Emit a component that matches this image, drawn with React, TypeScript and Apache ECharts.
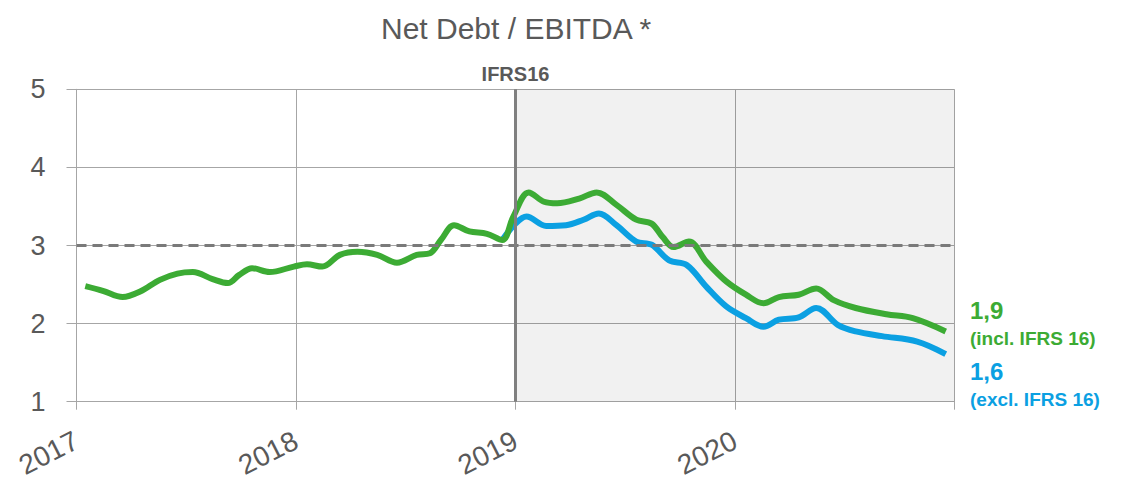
import React, { useEffect, useRef } from "react";
import * as echarts from "echarts";

const TITLE = "Net Debt / EBITDA *";
const yearTicks = [2017, 2018, 2019, 2020, 2021];
const valueTicks = [1, 2, 3, 4, 5];

const inclX = [2017.04, 2017.12, 2017.21, 2017.29, 2017.38, 2017.46, 2017.53, 2017.62, 2017.69, 2017.74, 2017.8, 2017.88, 2017.99, 2018.05, 2018.12, 2018.2, 2018.28, 2018.37, 2018.46, 2018.55, 2018.61, 2018.66, 2018.72, 2018.79, 2018.87, 2018.94, 2018.99, 2019.06, 2019.13, 2019.19, 2019.29, 2019.37, 2019.46, 2019.55, 2019.62, 2019.67, 2019.72, 2019.79, 2019.87, 2019.96, 2020.05, 2020.13, 2020.2, 2020.29, 2020.37, 2020.45, 2020.55, 2020.69, 2020.81, 2020.96];
const inclY = [2.48, 2.42, 2.34, 2.41, 2.56, 2.64, 2.66, 2.57, 2.52, 2.62, 2.71, 2.66, 2.73, 2.76, 2.73, 2.88, 2.92, 2.88, 2.78, 2.88, 2.9, 3.07, 3.26, 3.18, 3.15, 3.07, 3.37, 3.68, 3.56, 3.54, 3.6, 3.68, 3.52, 3.33, 3.28, 3.11, 2.98, 3.05, 2.79, 2.54, 2.37, 2.26, 2.34, 2.37, 2.45, 2.3, 2.2, 2.12, 2.07, 1.9];

const exclX = [2018.94, 2019.0, 2019.05, 2019.14, 2019.23, 2019.31, 2019.38, 2019.46, 2019.55, 2019.62, 2019.7, 2019.78, 2019.87, 2019.96, 2020.05, 2020.13, 2020.2, 2020.29, 2020.37, 2020.47, 2020.55, 2020.67, 2020.83, 2020.96];
const exclY = [3.07, 3.28, 3.37, 3.25, 3.26, 3.33, 3.41, 3.26, 3.05, 3.01, 2.81, 2.75, 2.47, 2.22, 2.07, 1.96, 2.05, 2.08, 2.2, 1.98, 1.9, 1.84, 1.77, 1.61];

const IFRS_YEAR = 2019;
const THRESHOLD = 3;
const inclLabel = ["1,9", "(incl. IFRS 16)"];
const exclLabel = ["1,6", "(excl. IFRS 16)"];

const GREEN = "#3cab34";
const BLUE = "#0ba0e2";
const GREY_TEXT = "#595959";
const GRID = "#a6a6a6";
const FONT = "'Liberation Sans', Arial, sans-serif";

export default function App() {
  const ref = useRef<HTMLDivElement>(null);
  useEffect(() => {
    document.body.style.margin = "0";
    const chart = echarts.init(ref.current!, null, { renderer: "svg" });
    const incl = inclX.map((x, i) => [x, inclY[i]]);
    const excl = exclX.map((x, i) => [x, exclY[i]]);
    chart.setOption({
      animation: false,
      textStyle: { fontFamily: FONT },
      title: {
        text: TITLE,
        left: 376,
        top: 8,
        textStyle: { fontSize: 30, fontWeight: "normal", color: GREY_TEXT, fontFamily: FONT },
      },
      grid: { left: 76.5, right: 172.5, top: 89.3, bottom: 81.3 },
      xAxis: {
        type: "value",
        min: yearTicks[0],
        max: yearTicks[yearTicks.length - 1],
        interval: 1,
        axisLine: { show: true, lineStyle: { color: GRID, width: 1 } },
        axisTick: { show: true, length: 8, lineStyle: { color: GRID } },
        splitLine: { show: true, lineStyle: { color: GRID, width: 1 } },
        axisLabel: {
          rotate: 27,
          margin: 37,
          fontSize: 28,
          color: GREY_TEXT,
          fontFamily: FONT,
          formatter: (v: number) => (v === yearTicks[yearTicks.length - 1] ? "" : String(v)),
        },
      },
      yAxis: {
        type: "value",
        min: valueTicks[0],
        max: valueTicks[valueTicks.length - 1],
        interval: 1,
        axisLine: { show: true, lineStyle: { color: GRID, width: 1 } },
        axisTick: { show: true, length: 10, lineStyle: { color: GRID } },
        splitLine: { show: true, lineStyle: { color: GRID, width: 1 } },
        axisLabel: { margin: 31, fontSize: 27, color: GREY_TEXT, fontFamily: FONT },
      },
      series: [
        {
          name: "incl",
          type: "line",
          data: incl,
          smooth: 0.35,
          showSymbol: false,
          lineStyle: { color: GREEN, width: 6 },
          itemStyle: { color: GREEN },
          z: 3,
          markArea: {
            silent: true,
            itemStyle: { color: "rgba(0,0,0,0.055)" },
            data: [[{ xAxis: IFRS_YEAR }, { xAxis: yearTicks[yearTicks.length - 1] }]],
          },
          markLine: {
            silent: true,
            symbol: "none",
            data: [
              {
                yAxis: THRESHOLD,
                lineStyle: { color: "#7a7a7a", width: 3, type: [10, 6] },
                label: { show: false },
              },
              {
                xAxis: IFRS_YEAR,
                lineStyle: { color: "#7f7f7f", width: 3, type: "solid" },
                label: {
                  show: true,
                  position: "end",
                  formatter: "IFRS16",
                  distance: 5,
                  fontSize: 20,
                  fontWeight: "bold",
                  color: GREY_TEXT,
                  fontFamily: FONT,
                },
              },
            ],
          },
        },
        {
          name: "excl",
          type: "line",
          data: excl,
          smooth: 0.35,
          showSymbol: false,
          lineStyle: { color: BLUE, width: 6 },
          itemStyle: { color: BLUE },
          z: 2,
        },
      ],
      graphic: [
        { type: "text", x: 970, y: 310, style: { text: inclLabel[0], fill: GREEN, font: `bold 24px ${FONT}`, verticalAlign: "middle", align: "left" } },
        { type: "text", x: 970, y: 338, style: { text: inclLabel[1], fill: GREEN, font: `bold 19px ${FONT}`, verticalAlign: "middle", align: "left" } },
        { type: "text", x: 970, y: 371, style: { text: exclLabel[0], fill: BLUE, font: `bold 24px ${FONT}`, verticalAlign: "middle", align: "left" } },
        { type: "text", x: 970, y: 399, style: { text: exclLabel[1], fill: BLUE, font: `bold 19px ${FONT}`, verticalAlign: "middle", align: "left" } },
      ],
    });
    return () => chart.dispose();
  }, []);
  return <div ref={ref} style={{ width: 1127, height: 483 }} />;
}
